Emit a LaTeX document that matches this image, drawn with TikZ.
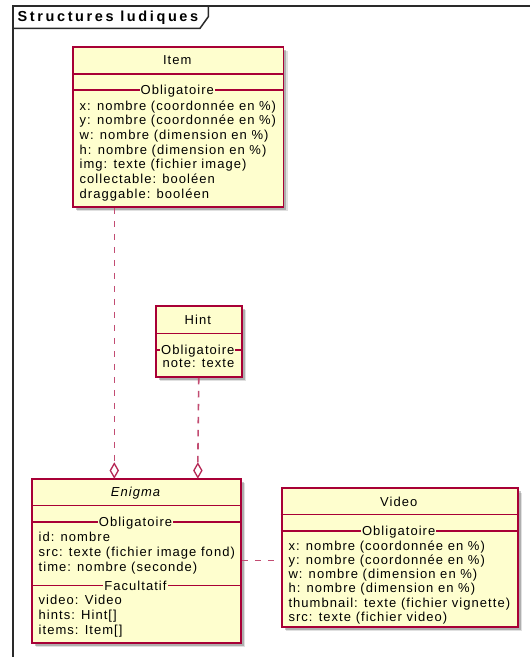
\documentclass[tikz,border=0pt]{standalone}
\usepackage{fontspec}
\setmainfont{Liberation Sans}[LetterSpace=8]
\newfontfamily\frametitlefont{Liberation Sans}[LetterSpace=18]
\usetikzlibrary{shapes.geometric,shadows}
\definecolor{umlfill}{HTML}{FEFECE}
\definecolor{umlborder}{HTML}{A80036}
\definecolor{framecol}{HTML}{2A2A2A}
\tikzset{
  umlbox/.style={draw=umlborder, fill=umlfill, line width=1.8pt, anchor=north west, inner sep=0pt,
    drop shadow={shadow xshift=4.5pt, shadow yshift=-4.5pt, opacity=0.12, fill=black},
    drop shadow={shadow xshift=3pt, shadow yshift=-3pt, opacity=0.22, fill=black}},
  sepline/.style={draw=umlborder, line width=1.3pt},
  seplabel/.style={fill=umlfill, inner xsep=1pt, inner ysep=0.6pt, anchor=base},
  attr/.style={anchor=base west, inner sep=0pt},
  ttl/.style={anchor=base, inner sep=0pt},
  dep/.style={draw=umlborder!70, line width=1.6pt, dash pattern=on 6.5pt off 6.5pt},
  agg/.style={diamond, draw=umlborder!85, fill=white, inner sep=0pt, minimum width=8.5pt, minimum height=14.4pt, line width=1.3pt},
}
\begin{document}
\begin{tikzpicture}[x=1pt,y=-1pt, font=\fontsize{13pt}{15pt}\selectfont]
\useasboundingbox (0,0) rectangle (530,657);
\clip (0,0) rectangle (530,657);
% frame
\draw[framecol, line width=2pt] (545,5.7) -- (12.7,5.7) -- (12.7,670);
\draw[framecol, line width=1.5pt] (12.7,28.3) -- (200,28.3) -- (208.3,16.7) -- (208.3,5.7);
\node[anchor=base west, inner sep=0pt, font=\fontsize{14.5pt}{16pt}\frametitlefont\bfseries] (ftitle) at (17.5,21.8) {Structures ludiques};

% Item
\node[umlbox, minimum width=210.5pt, minimum height=160pt] (item) at (72,46) {};
\node[ttl] (itemt) at (177.25,64.7) {Item};
\draw[sepline] (72,74) -- (282.5,74);
\draw[sepline] (72,90) -- (282.5,90);
\node[seplabel] (itemo) at (177.25,94.5) {Obligatoire};
\node[attr] (i1) at (79.5,110) {x: nombre (coordonnée en \%)};
\node[attr] (i2) at (79.5,124.7) {y: nombre (coordonnée en \%)};
\node[attr] (i3) at (79.5,139.4) {w: nombre (dimension en \%)};
\node[attr] (i4) at (79.5,154.1) {h: nombre (dimension en \%)};
\node[attr] (i5) at (79.5,168.8) {img: texte (fichier image)};
\node[attr] (i6) at (79.5,183.5) {collectable: booléen};
\node[attr] (i7) at (79.5,198.2) {draggable: booléen};

% Hint
\node[umlbox, minimum width=85.7pt, minimum height=71pt] (hint) at (155,305) {};
\node[ttl] (hintt) at (197.85,324.5) {Hint};
\draw[sepline] (155,333.3) -- (240.7,333.3);
\draw[sepline] (155,350) -- (240.7,350);
\node[seplabel] (hinto) at (197.85,354.5) {Obligatoire};
\node[attr] (h1) at (162.5,367.5) {note: texte};

% Enigma
\node[umlbox, minimum width=209pt, minimum height=164pt] (enigma) at (31,477.7) {};
\node[ttl, font=\fontsize{13pt}{15pt}\selectfont\itshape] (enigmat) at (135.5,496.2) {Enigma};
\draw[sepline] (31,505.7) -- (240,505.7);
\draw[sepline] (31,522) -- (240,522);
\node[seplabel] (enigmao) at (135.5,526.5) {Obligatoire};
\node[attr] (e1) at (38.5,541) {id: nombre};
\node[attr] (e2) at (38.5,556) {src: texte (fichier image fond)};
\node[attr] (e3) at (38.5,571) {time: nombre (seconde)};
\draw[sepline] (31,585.7) -- (240,585.7);
\node[seplabel] (enigmaf) at (135.5,590.2) {Facultatif};
\node[attr] (e4) at (38.5,604) {video: Video};
\node[attr] (e5) at (38.5,619) {hints: Hint[]};
\node[attr] (e6) at (38.5,634) {items: Item[]};

% Video
\node[umlbox, minimum width=236pt, minimum height=138.7pt] (video) at (280.7,487.3) {};
\node[ttl] (videot) at (398.7,506.3) {Video};
\draw[sepline] (280.7,514.3) -- (516.7,514.3);
\draw[sepline] (280.7,531) -- (516.7,531);
\node[seplabel] (videoo) at (398.7,535.5) {Obligatoire};
\node[attr] (v1) at (288.3,550) {x: nombre (coordonnée en \%)};
\node[attr] (v2) at (288.3,564.3) {y: nombre (coordonnée en \%)};
\node[attr] (v3) at (288.3,578.6) {w: nombre (dimension en \%)};
\node[attr] (v4) at (288.3,592.9) {h: nombre (dimension en \%)};
\node[attr] (v5) at (288.3,607.2) {thumbnail: texte (fichier vignette)};
\node[attr] (v6) at (288.3,621.5) {src: texte (fichier video)};

% aggregation diamonds and connectors
\node[agg] (d1) at (114.3,470.5) {};
\node[agg] (d2) at (197.85,470.5) {};
\draw[dep] (item.south -| d1.north) -- (d1.north);
\draw[dep] (hint.south) -- (d2.north);
\draw[dep] (enigma.east) -- (enigma.east -| video.west);
\end{tikzpicture}
\end{document}
